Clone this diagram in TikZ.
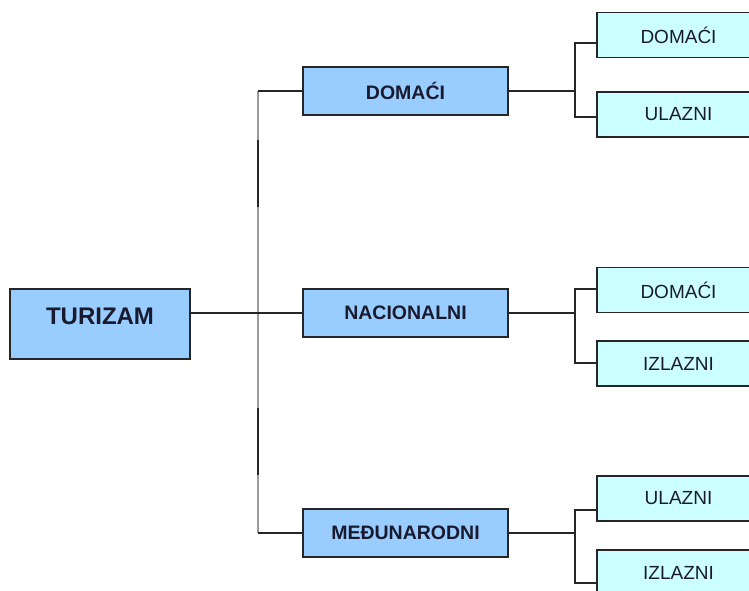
\documentclass[tikz,border=0pt]{standalone}
\usepackage{fontspec}
\setmainfont{Liberation Sans}
\usetikzlibrary{calc}
\definecolor{midblue}{HTML}{99CCFF}
\definecolor{leafcyan}{HTML}{CCFFFF}
\definecolor{txt}{HTML}{1A1A2E}
\definecolor{trunkgray}{HTML}{9A9A9A}
\tikzset{
  rootbox/.style={draw=black!85, line width=1.5pt, fill=midblue, minimum width=180pt, minimum height=70pt,
    inner sep=0pt, text=txt, font=\fontsize{24}{28}\selectfont\bfseries},
  midbox/.style={draw=black!85, line width=1.5pt, fill=midblue, minimum width=205pt, minimum height=48pt,
    inner sep=0pt, text=txt, font=\fontsize{19.5}{23}\selectfont\bfseries},
  leafbox/.style={draw=black!85, line width=1.5pt, fill=leafcyan, minimum width=163pt, minimum height=45pt,
    inner sep=0pt, text=txt, font=\fontsize{19}{23}\selectfont},
  conn/.style={draw=black!85, line width=1.5pt},
  trunk/.style={draw=trunkgray, line width=2.5pt},
}
\begin{document}
\begin{tikzpicture}[x=1pt,y=-1pt]
\useasboundingbox (0,0) rectangle (749,590);
\clip (0,0) rectangle (749,590);
% nodes
\node[rootbox] (root) at (100,324) {\raisebox{0pt}[0pt][0pt]{TURIZAM}};
\node[midbox] (m1) at (405.5,91) {DOMAĆI};
\node[midbox] (m2) at (405.5,313) {NACIONALNI};
\node[midbox] (m3) at (405.5,533) {MEĐUNARODNI};
\node[leafbox] (l1a) at (678.5,35) {DOMAĆI};
\node[leafbox] (l1b) at (678.5,114.5) {ULAZNI};
\node[leafbox] (l2a) at (678.5,290) {DOMAĆI};
\node[leafbox] (l2b) at (678.5,363.5) {IZLAZNI};
\node[leafbox] (l3a) at (678.5,498.5) {ULAZNI};
\node[leafbox] (l3b) at (678.5,572.5) {IZLAZNI};
% trunk
\coordinate (ttop) at (258,91);
\coordinate (tbot) at (258,533);
\draw[trunk] (ttop) -- (tbot);
\draw[conn] (258,140) -- (258,207);
\draw[conn] (258,408) -- (258,475);
\draw[conn] ([yshift=11pt]root.east) -- (m2.west);
\draw[conn] (ttop) -- (m1.west);
\draw[conn] (tbot) -- (m3.west);
% branches
\coordinate (b1) at (575,91);
\coordinate (b2) at (575,313);
\coordinate (b3) at (575,533);
\draw[conn] (m1.east) -- (b1);
\draw[conn] (m2.east) -- (b2);
\draw[conn] (m3.east) -- (b3);
\draw[conn] ([yshift=-8pt]l1a.west) -| (b1) |- ([yshift=-2.5pt]l1b.west);
\draw[conn] ([yshift=1pt]l2a.west) -| (b2) |- ([yshift=0.5pt]l2b.west);
\draw[conn] ([yshift=-11.5pt]l3a.west) -| (b3) |- ([yshift=-10.5pt]l3b.west);
\end{tikzpicture}
\end{document}
